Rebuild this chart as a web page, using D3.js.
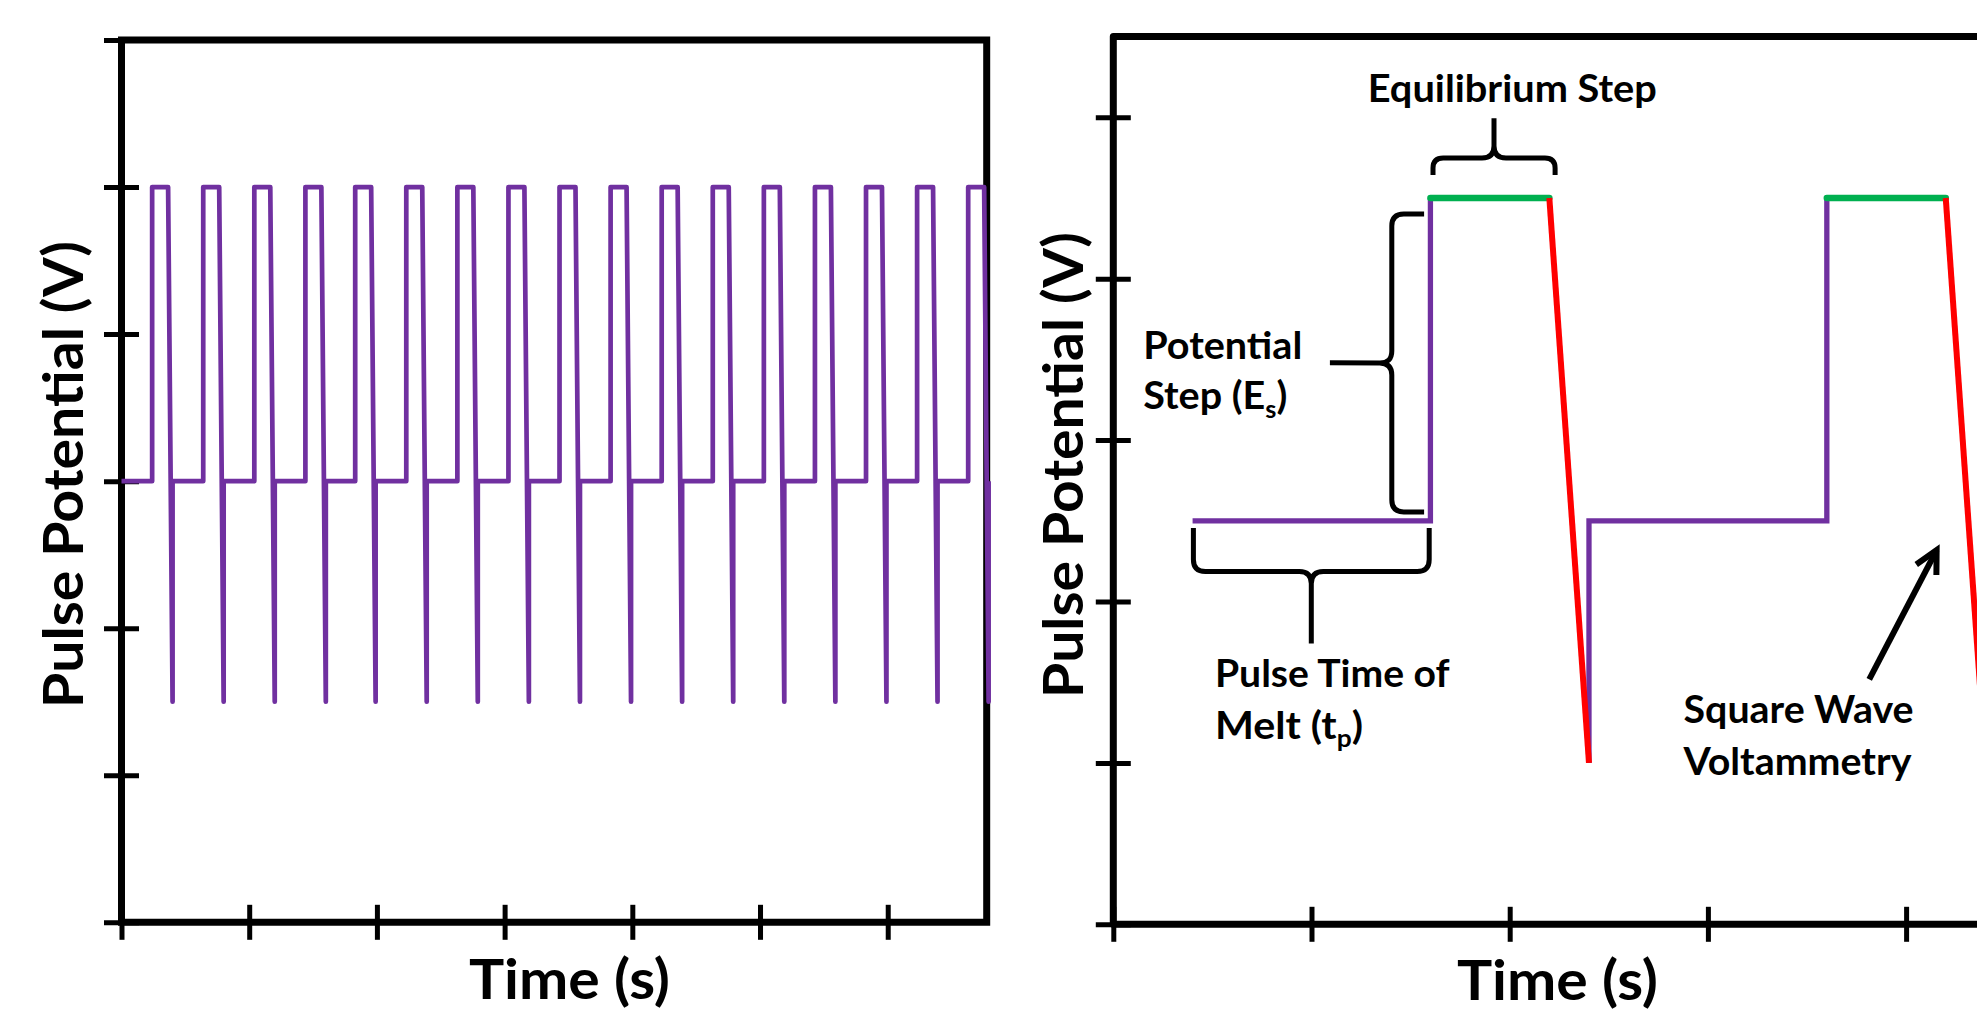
<!DOCTYPE html>
<html>
<head>
<meta charset="utf-8">
<script src="https://cdn.jsdelivr.net/npm/d3@7"></script>
<style>
  body { margin: 0; background: #fff; }
  svg { display: block; }
  text { font-family: Lato, "Open Sans", sans-serif; font-weight: 700; fill: #000; }
</style>
</head>
<body>
<svg id="chart" width="1977" height="1009"></svg>
<script>
// ---- left panel data (train of pulses) ----
var leftTicksX = [0, 1, 2, 3, 4, 5, 6];
var leftTicksY = [0, 1, 2, 3, 4, 5, 6];
var pulseStarts = [0.24, 0.64, 1.04, 1.44, 1.83, 2.23, 2.63, 3.03, 3.43, 3.83, 4.23, 4.63, 5.03, 5.43, 5.83, 6.23, 6.63];
var baseLevel = 3, highLevel = 5, lowLevel = 1.5;
var pulseTop = 0.125, pulseFall = 0.16;

// ---- right panel data (one cycle, zoomed) ----
var rightTicksX = [0, 1, 2, 3, 4, 5];
var rightTicksY = [0, 1, 2, 3, 4, 5];
var purpleSegs = [
  [[0.4, 2.5], [1.6, 2.5], [1.6, 4.5]],
  [[2.4, 1.0], [2.4, 2.5], [3.6, 2.5], [3.6, 4.5]]
];
var greenSegs = [
  [[1.6, 4.5], [2.2, 4.5]],
  [[3.6, 4.5], [4.2, 4.5]]
];
var redSegs = [
  [[2.2, 4.5], [2.4, 1.0]],
  [[4.2, 4.5], [4.4, 1.0]]
];
var braces = [
  {a: [1.613, 4.643], b: [2.229, 4.643], main: [1.921, 4.748], tip: [1.921, 4.994]},
  {a: [1.568, 4.40], b: [1.568, 2.555], main: [1.405, 3.478], tip: [1.093, 3.478]},
  {a: [0.404, 2.455], b: [1.594, 2.455], main: [0.999, 2.185], tip: [0.999, 1.74]}
];
var arrowFrom = [3.814, 1.518], arrowTo = [4.154, 2.319];

var PURPLE = "#7030A0", GREEN = "#00B050", RED = "#FF0000";

var svg = d3.select("#chart");

var xL = d3.scaleLinear().domain([0, 6.775]).range([121.5, 986.7]);
var yL = d3.scaleLinear().domain([0, 6]).range([922.3, 40]);
var xR = d3.scaleLinear().domain([0, 5]).range([1113.3, 2104.3]);
var yR = d3.scaleLinear().domain([0, 5.5]).range([924.3, 36.6]);

function drawAxes(x, y, xt, yt, rounded) {
  var g = svg.append("g");
  g.append("g")
    .attr("transform", "translate(0," + y.range()[0] + ")")
    .call(d3.axisBottom(x).tickValues(xt).tickFormat("").tickSizeOuter(0).tickSizeInner(17.5))
    .call(function (a) {
      a.select(".domain").remove();
      a.selectAll(".tick line").attr("y1", -17.5).attr("y2", 17.5)
        .attr("stroke", "#000").attr("stroke-width", 5);
    });
  g.append("g")
    .attr("transform", "translate(" + x.range()[0] + ",0)")
    .call(d3.axisLeft(y).tickValues(yt).tickFormat("").tickSizeOuter(0).tickSizeInner(17.5))
    .call(function (a) {
      a.select(".domain").remove();
      a.selectAll(".tick line").attr("x1", -17.5).attr("x2", 17.5)
        .attr("stroke", "#000").attr("stroke-width", 5);
    });
  var x0 = x.range()[0], x1 = x.range()[1], y0 = y.range()[0], y1 = y.range()[1];
  g.append("path")
    .attr("d", "M" + x0 + "," + y0 + "V" + y1 + "H" + x1 + "V" + y0 + "Z")
    .attr("fill", "none").attr("stroke", "#000").attr("stroke-width", 7)
    .attr("stroke-linejoin", rounded ? "round" : "miter");
}

drawAxes(xL, yL, leftTicksX, leftTicksY, false);
drawAxes(xR, yR, rightTicksX, rightTicksY, true);

// left waveform
var lineL = d3.line().x(function (d) { return xL(d[0]); }).y(function (d) { return yL(d[1]); });
var pts = [[0, baseLevel]];
pulseStarts.forEach(function (s) {
  pts.push([s, baseLevel], [s, highLevel], [s + pulseTop, highLevel],
           [s + pulseFall, lowLevel], [s + pulseFall, baseLevel]);
});
svg.append("path").attr("d", lineL(pts))
  .attr("fill", "none").attr("stroke", PURPLE).attr("stroke-width", 4.7)
  .attr("stroke-linejoin", "round");

// right waveform
var lineR = d3.line().x(function (d) { return xR(d[0]); }).y(function (d) { return yR(d[1]); });
function segs(list, color, w, cap) {
  svg.append("g").selectAll("path").data(list).join("path")
    .attr("d", lineR).attr("fill", "none").attr("stroke", color)
    .attr("stroke-width", w).attr("stroke-linecap", cap).attr("stroke-linejoin", "miter");
}
segs(purpleSegs, PURPLE, 5.3, "butt");
segs(greenSegs, GREEN, 6.5, "round");
segs(redSegs, RED, 6, "butt");

// braces
function bracePath(br) {
  var p0 = [xR(br.a[0]), yR(br.a[1])], p1 = [xR(br.b[0]), yR(br.b[1])];
  var pm = [xR(br.main[0]), yR(br.main[1])], pt = [xR(br.tip[0]), yR(br.tip[1])];
  var L = Math.hypot(p1[0] - p0[0], p1[1] - p0[1]);
  var u = [(p1[0] - p0[0]) / L, (p1[1] - p0[1]) / L];
  var mid = [(p0[0] + p1[0]) / 2, (p0[1] + p1[1]) / 2];
  var h = Math.hypot(pm[0] - mid[0], pm[1] - mid[1]);
  var n = [(pm[0] - mid[0]) / h, (pm[1] - mid[1]) / h];
  var t = Math.hypot(pt[0] - pm[0], pt[1] - pm[1]);
  var r = Math.min(h * 0.6, 12), r2 = Math.min(t * 0.35, 12);
  function P(s, w) { return (p0[0] + u[0] * s + n[0] * w).toFixed(1) + "," + (p0[1] + u[1] * s + n[1] * w).toFixed(1); }
  return "M" + P(0, 0) + "L" + P(0, h - r) + "Q" + P(0, h) + " " + P(r, h) +
    "L" + P(L / 2 - r2, h) + "Q" + P(L / 2, h) + " " + P(L / 2, h + r2) +
    "L" + P(L / 2, h + t) +
    "M" + P(L / 2, h + r2) + "Q" + P(L / 2, h) + " " + P(L / 2 + r2, h) +
    "L" + P(L - r, h) + "Q" + P(L, h) + " " + P(L, h - r) + "L" + P(L, 0);
}
svg.append("g").selectAll("path").data(braces).join("path")
  .attr("d", bracePath).attr("fill", "none").attr("stroke", "#000")
  .attr("stroke-width", 5).attr("stroke-linejoin", "round");

// arrow
(function () {
  var a = [xR(arrowFrom[0]), yR(arrowFrom[1])], b = [xR(arrowTo[0]), yR(arrowTo[1])];
  var ang = Math.atan2(a[1] - b[1], a[0] - b[0]), len = 25, spread = 27 * Math.PI / 180;
  var g = svg.append("g").attr("stroke", "#000").attr("stroke-width", 6).attr("fill", "none")
    .attr("stroke-linecap", "butt").attr("stroke-linejoin", "miter");
  g.append("line").attr("x1", a[0]).attr("y1", a[1]).attr("x2", b[0]).attr("y2", b[1]);
  g.append("path").attr("d",
    "M" + (b[0] + len * Math.cos(ang + spread)) + "," + (b[1] + len * Math.sin(ang + spread)) +
    "L" + b[0] + "," + b[1] +
    "L" + (b[0] + len * Math.cos(ang - spread)) + "," + (b[1] + len * Math.sin(ang - spread)));
})();

// text helper: fit to measured width of the reference
function addText(parts, x, y, size, width, anchor, rotate) {
  var t = svg.append("text").attr("font-size", size).attr("text-anchor", anchor);
  var down = false;
  parts.forEach(function (p) {
    var ts = t.append("tspan").text(p.t);
    if (p.sub) { ts.attr("font-size", size * 0.64).attr("dy", size * 0.22); down = true; }
    else if (down) { ts.attr("dy", -size * 0.22); down = false; }
  });
  var k = width / t.node().getBBox().width;
  t.attr("transform", "translate(" + x + "," + y + ")" + (rotate ? " rotate(" + rotate + ")" : "") + " scale(" + k + ",1)");
}

var AX = 54.6, AN = 37.6;
addText([{t: "Time (s)"}], 569.5, 999, AX, 201, "middle");
addText([{t: "Time (s)"}], 1557.5, 1000, AX, 201, "middle");
addText([{t: "Pulse Potential (V)"}], 83, 474.5, AX, 467, "middle", -90);
addText([{t: "Pulse Potential (V)"}], 1083, 465, AX, 466, "middle", -90);

addText([{t: "Equilibrium Step"}], xR(2.013), yR(5.095), AN, 289, "middle");
addText([{t: "Potential"}], xR(0.151), yR(3.50), AN, 159, "start");
addText([{t: "Step (E"}, {t: "s", sub: true}, {t: ")"}], xR(0.151), yR(3.19), AN, 144, "start");
addText([{t: "Pulse Time of"}], xR(0.513), yR(1.47), AN, 235, "start");
addText([{t: "Melt (t"}, {t: "p", sub: true}, {t: ")"}], xR(0.513), yR(1.15), AN, 148, "start");
addText([{t: "Square Wave"}], xR(2.877), yR(1.245), AN, 230, "start");
addText([{t: "Voltammetry"}], xR(2.877), yR(0.925), AN, 229, "start");
</script>
</body>
</html>
